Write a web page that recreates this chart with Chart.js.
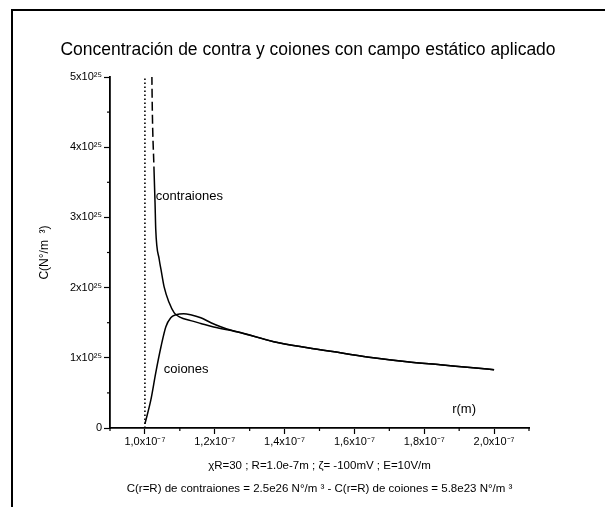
<!DOCTYPE html>
<html>
<head>
<meta charset="utf-8">
<script src="https://cdn.jsdelivr.net/npm/chart.js@4/dist/chart.umd.min.js"></script>
<style>
html,body{margin:0;padding:0;background:#fff;}
#wrap{position:relative;width:605px;height:507px;}
</style>
</head>
<body>
<div id="wrap"><canvas id="c" width="605" height="507"></canvas></div>
<script>
// Radius (m) and concentration (N°/m³)
const rContra = [1.018e-7, 1.020e-7, 1.026e-7, 1.029e-7, 1.031e-7, 1.041e-7, 1.046e-7, 1.055e-7, 1.069e-7, 1.084e-7, 1.100e-7, 1.131e-7, 1.160e-7, 1.197e-7, 1.274e-7, 1.369e-7, 1.466e-7, 1.560e-7, 1.654e-7, 1.751e-7, 1.846e-7, 1.940e-7, 2.000e-7];
const cContra = [6.5e25, 5.0e25, 3.69e25, 3.21e25, 2.83e25, 2.40e25, 2.26e25, 2.01e25, 1.79e25, 1.64e25, 1.58e25, 1.53e25, 1.49e25, 1.44e25, 1.357e25, 1.229e25, 1.143e25, 1.071e25, 1.0e25, 0.943e25, 0.90e25, 0.857e25, 0.83e25];
const rCoiones = [1.000e-7, 1.017e-7, 1.031e-7, 1.046e-7, 1.060e-7, 1.074e-7, 1.089e-7, 1.111e-7, 1.131e-7, 1.160e-7, 1.189e-7, 1.217e-7, 1.250e-7, 1.274e-7, 1.369e-7, 1.466e-7, 1.560e-7, 1.654e-7, 1.751e-7, 1.846e-7, 1.940e-7, 2.000e-7];
const cCoiones = [0.058e25, 0.40e25, 0.786e25, 1.157e25, 1.443e25, 1.571e25, 1.614e25, 1.629e25, 1.614e25, 1.571e25, 1.50e25, 1.443e25, 1.39e25, 1.36e25, 1.229e25, 1.143e25, 1.071e25, 1.0e25, 0.943e25, 0.90e25, 0.857e25, 0.83e25];
const rWall = [1.0e-7, 1.0e-7];
const cWall = [0, 5e25];

const titleText = 'Concentración de contra y coiones con campo estático aplicado';
const yTitle = 'C(N°/m  ³)';
const xTitle = ['χR=30 ; R=1.0e-7m ; ζ= -100mV ; E=10V/m',
                'C(r=R) de contraiones = 2.5e26 N°/m ³ - C(r=R) de coiones = 5.8e23 N°/m ³'];
const curveLabels = [
  {text: 'contraiones', r: 1.031e-7, c: 3.30e25},
  {text: 'coiones', r: 1.054e-7, c: 0.83e25},
  {text: 'r(m)', r: 1.88e-7, c: 0.26e25}
];

const pts = (xs, ys) => xs.map((x, i) => ({x: x, y: ys[i]}));
const FONT = 'Liberation Sans, Arial, sans-serif';

const framePlugin = {
  id: 'frame',
  beforeDraw(chart) {
    const ctx = chart.ctx;
    ctx.save();
    ctx.strokeStyle = '#000';
    ctx.lineWidth = 2;
    ctx.beginPath();
    ctx.moveTo(12, 507);
    ctx.lineTo(12, 10);
    ctx.lineTo(605, 10);
    ctx.stroke();
    ctx.restore();
  }
};

const extrasPlugin = {
  id: 'extras',
  afterDraw(chart) {
    const ctx = chart.ctx;
    const xs = chart.scales.x, ys = chart.scales.y;
    ctx.save();
    ctx.strokeStyle = '#000';
    ctx.lineWidth = 1.2;
    // minor ticks
    xs.ticks.forEach(t => {
      const n = Math.round(t.value * 1e8);
      if (n % 2 !== 0) {
        const px = xs.getPixelForValue(t.value);
        ctx.beginPath(); ctx.moveTo(px, ys.bottom); ctx.lineTo(px, ys.bottom + 3); ctx.stroke();
      }
    });
    ys.ticks.forEach(t => {
      const n = Math.round(t.value / 1e24);
      if (n % 10 !== 0) {
        const py = ys.getPixelForValue(t.value);
        ctx.beginPath(); ctx.moveTo(xs.left, py); ctx.lineTo(xs.left - 3, py); ctx.stroke();
      }
    });
    // curve labels
    ctx.fillStyle = '#000';
    ctx.font = '13px ' + FONT;
    ctx.textBaseline = 'middle';
    ctx.textAlign = 'left';
    curveLabels.forEach(l => {
      ctx.fillText(l.text, xs.getPixelForValue(l.r), ys.getPixelForValue(l.c));
    });
    ctx.restore();
  }
};

new Chart(document.getElementById('c'), {
  type: 'line',
  data: {
    datasets: [
      {
        label: 'contraiones',
        data: pts(rContra, cContra),
        borderColor: '#000',
        borderWidth: 1.5,
        pointRadius: 0,
        cubicInterpolationMode: 'monotone',
        segment: {
          borderDash: ctx => ctx.p0.parsed.y > 3.7e25 ? [9, 4] : undefined
        }
      },
      {
        label: 'coiones',
        data: pts(rCoiones, cCoiones),
        borderColor: '#000',
        borderWidth: 1.5,
        pointRadius: 0,
        cubicInterpolationMode: 'monotone'
      },
      {
        label: 'r=R',
        data: pts(rWall, cWall),
        borderColor: '#000',
        borderWidth: 1.6,
        borderDash: [1.5, 2.5],
        pointRadius: 0
      }
    ]
  },
  options: {
    responsive: false,
    animation: false,
    layout: {padding: {left: 11, top: 10, right: 0, bottom: 0}},
    plugins: {
      legend: {display: false},
      tooltip: {enabled: false},
      title: {
        display: true,
        text: titleText,
        color: '#000',
        font: {family: FONT, size: 17.5, weight: 'normal', lineHeight: 1.2},
        padding: {top: 30, bottom: 16}
      }
    },
    scales: {
      x: {
        type: 'linear',
        min: 0.9e-7,
        max: 2.1e-7,
        afterFit: s => { s.height = 79; },
        ticks: {
          stepSize: 1e-8,
          autoSkip: false,
          maxRotation: 0,
          padding: 1,
          color: '#000',
          font: {family: FONT, size: 11},
          callback: v => {
            const n = Math.round(v * 1e8);
            if (n % 2 !== 0) return '';
            return (n / 10).toFixed(1).replace('.', ',') + 'x10⁻⁷';
          }
        },
        grid: {
          drawOnChartArea: false,
          drawTicks: true,
          tickLength: 6,
          tickWidth: 1.2,
          tickColor: ctx => (ctx.tick && Math.round(ctx.tick.value * 1e8) % 2 !== 0) ? 'rgba(0,0,0,0)' : '#000'
        },
        border: {display: true, color: '#000', width: 1.8},
        title: {
          display: true,
          text: xTitle,
          color: '#000',
          font: {family: FONT, size: 11.5, lineHeight: 2},
          padding: {top: 0, bottom: 7}
        }
      },
      y: {
        type: 'linear',
        min: 0,
        max: 5e25,
        afterFit: s => { s.width = 99; },
        ticks: {
          stepSize: 5e24,
          autoSkip: false,
          padding: 2,
          color: '#000',
          font: {family: FONT, size: 11},
          callback: v => {
            const n = Math.round(v / 1e24);
            if (n === 0) return '0';
            if (n % 10 !== 0) return '';
            return (n / 10) + 'x10²⁵';
          }
        },
        grid: {
          drawOnChartArea: false,
          drawTicks: true,
          tickLength: 6,
          tickWidth: 1.2,
          tickColor: ctx => (ctx.tick && Math.round(ctx.tick.value / 1e24) % 10 !== 0) ? 'rgba(0,0,0,0)' : '#000'
        },
        border: {display: true, color: '#000', width: 1.8},
        title: {
          display: true,
          text: yTitle,
          color: '#000',
          font: {family: FONT, size: 12, lineHeight: 1.2},
          padding: {top: 26, bottom: 0}
        }
      },
      yRight: {
        type: 'linear',
        position: 'right',
        display: true,
        afterFit: s => { s.width = 76; },
        ticks: {display: false},
        grid: {display: false, drawTicks: false},
        border: {display: false},
        title: {display: false}
      }
    }
  },
  plugins: [framePlugin, extrasPlugin]
});
</script>
</body>
</html>
